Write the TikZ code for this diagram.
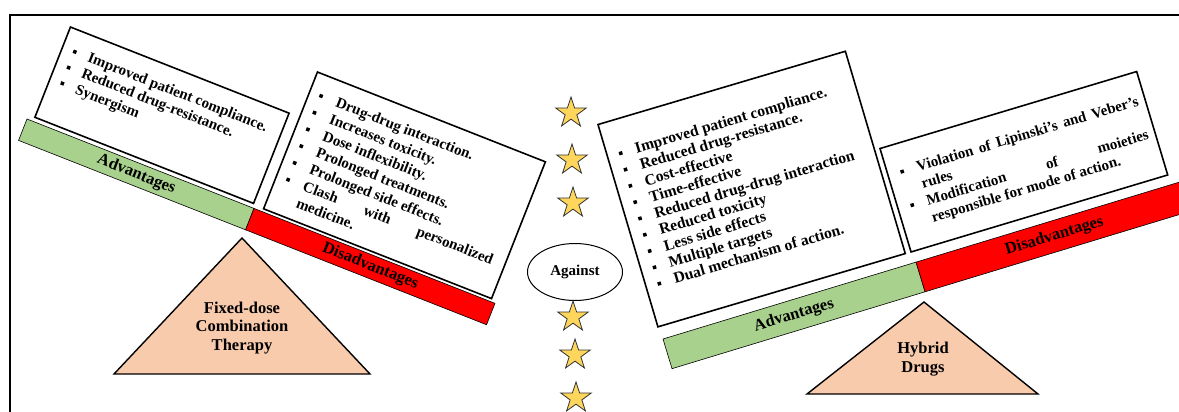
\documentclass[tikz,border=0pt]{standalone}
\usepackage{fontspec}
\setmainfont{Liberation Serif}
\usetikzlibrary{shapes.geometric}
\definecolor{advgreen}{HTML}{A9D18E}
\definecolor{disred}{HTML}{FF0000}
\definecolor{peach}{HTML}{F8CBAD}
\definecolor{starfill}{HTML}{FFD65C}
% small square bullet and list font
\newcommand\sqbul{\raisebox{3pt}{\rule{3.5pt}{3.5pt}}}
\newcommand\listsize[2][15]{\fontsize{#1}{#2}\selectfont\bfseries}
\begin{document}
\begin{tikzpicture}[x=1pt,y=-1pt,
  panel/.style={draw=black, line width=1.6pt, fill=white, rectangle, inner sep=0pt, anchor=north west},
  bar/.style={draw=black, line width=0.6pt, rectangle, inner sep=0pt,
    font=\fontsize{16.5}{18}\selectfont\bfseries},
  listtext/.style={inner sep=0pt, anchor=base west},
  tri/.style={draw=black, line width=1.4pt, fill=peach, line join=miter},
  tritext/.style={align=center, inner sep=0pt, font=\fontsize{16.5}{18.5}\selectfont\bfseries},
  starry/.style={star, star points=5, star point ratio=2.6, minimum size=32pt, inner sep=0pt,
    draw=black!80, fill=starfill, line width=0.8pt},
]
\useasboundingbox (0,0) rectangle (1179,412);
\clip (0,0) rectangle (1179,412);

% frame
\draw[line width=1.8pt] (10,412) -- (10,15) -- (1179,15);

% ---------- fixed-dose combination therapy ----------
\draw[tri] (242,238) -- (370,374) -- (114,374) -- cycle;
\node[tritext] (fdc) at (242,328) {Fixed-dose\\Combination\\Therapy};

\begin{scope}[shift={(27,119)}, rotate=-21.5, transform shape]
  \node[bar, fill=advgreen, minimum width=244pt, minimum height=23pt] (advbarL) at (122,11.5) {Advantages};
  \node[bar, fill=disred, minimum width=259pt, minimum height=23pt] (disbarL) at (373.5,11.5) {Disadvantages};
\end{scope}

\begin{scope}[shift={(70,26)}, rotate=-21.5, transform shape]
  \node[panel, minimum width=235pt, minimum height=97pt] (advboxL) at (0,0) {};
  \node[listtext] (advlistL) at (12,27) {\listsize{17}\begin{tabular}[t]{@{}p{16.5pt}@{}l@{}}
    \sqbul & Improved patient compliance.\\
    \sqbul & Reduced drug-resistance.\\
    \sqbul & Synergism
  \end{tabular}};
\end{scope}

\begin{scope}[shift={(317,71)}, rotate=-21.5, transform shape]
  \node[panel, minimum width=245pt, minimum height=147pt] (disboxL) at (0,0) {};
  \node[listtext] (dislistL) at (11,26.5) {\listsize{18}\begin{tabular}[t]{@{}p{18.5pt}@{}l@{}}
    \sqbul & Drug-drug interaction.\\
    \sqbul & Increases toxicity.\\
    \sqbul & Dose inflexibility.\\
    \sqbul & Prolonged treatments.\\
    \sqbul & Prolonged side effects.\\
    \sqbul & \makebox[203pt][s]{Clash with personalized}\\
           & medicine.
  \end{tabular}};
\end{scope}

% ---------- centre ----------
\node[ellipse, draw=black, line width=1pt, minimum width=95pt, minimum height=57pt, inner sep=0pt,
  font=\fontsize{15}{17}\selectfont\bfseries] (against) at (575,272) {Against};
\foreach \n/\x/\y in {1/571/113, 2/572/160, 3/573/203, 4/573/317, 5/575/355, 6/576/398}
  \node[starry] (star\n) at (\x,\y) {};

% ---------- hybrid drugs ----------
\draw[tri] (924,302) -- (1038,394) -- (807,394) -- cycle;
\node[tritext] (hyb) at (923,359) {Hybrid\\Drugs};

\begin{scope}[shift={(663,339)}, rotate=16.9, transform shape]
  \node[bar, fill=advgreen, minimum width=264.5pt, minimum height=31pt] (advbarR) at (132.25,15.5) {Advantages};
  \node[bar, fill=disred, minimum width=280pt, minimum height=31pt] (disbarR) at (404.5,15.5) {Disadvantages};
\end{scope}

\begin{scope}[shift={(597,124)}, rotate=16.5, transform shape]
  \node[panel, minimum width=258pt, minimum height=211pt] (advboxR) at (0,0) {};
  \node[listtext] (advlistR) at (12.5,39.5) {\listsize[15.6]{17}\begin{tabular}[t]{@{}p{17pt}@{}l@{}}
    \sqbul & Improved patient compliance.\\
    \sqbul & Reduced drug-resistance.\\
    \sqbul & Cost-effective\\
    \sqbul & Time-effective\\
    \sqbul & Reduced drug-drug interaction\\
    \sqbul & Reduced toxicity\\
    \sqbul & Less side effects\\
    \sqbul & Multiple targets\\
    \sqbul & Dual mechanism of action.
  \end{tabular}};
\end{scope}

\begin{scope}[shift={(879,148)}, rotate=16.7, transform shape]
  \node[panel, minimum width=268pt, minimum height=108pt] (disboxR) at (0,0) {};
  \node[listtext] (dislistR) at (13.5,34) {\listsize{17.5}\begin{tabular}[t]{@{}p{17pt}@{}l@{}}
    \sqbul & \makebox[231pt][s]{Violation of Lipinski's and Veber's}\\
           & rules\\
    \sqbul & \makebox[231pt][s]{Modification of moieties}\\
           & responsible for mode of action.
  \end{tabular}};
\end{scope}
\end{tikzpicture}
\end{document}
